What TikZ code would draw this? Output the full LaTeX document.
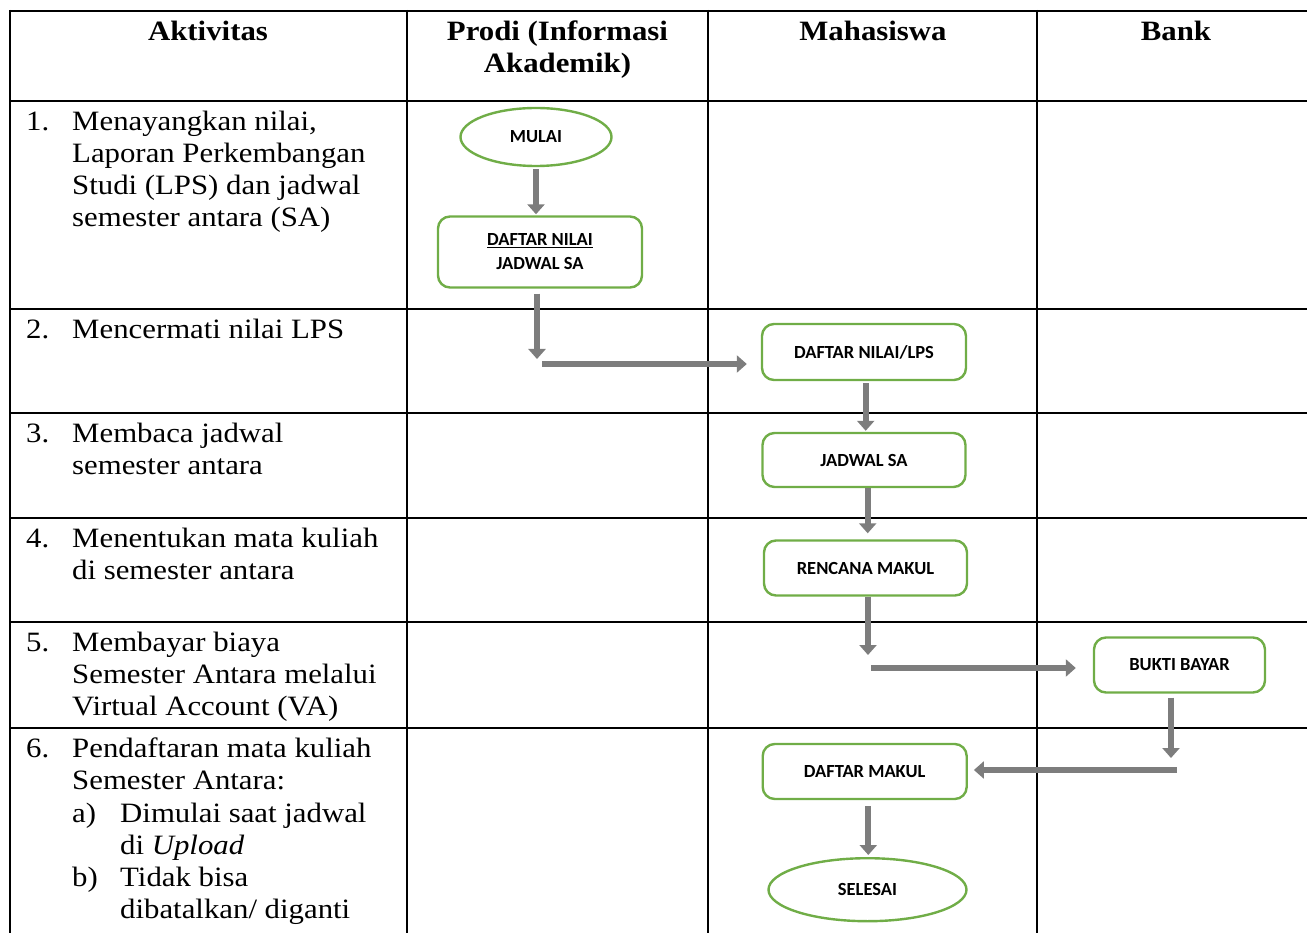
\documentclass[tikz,border=0pt]{standalone}
\usepackage{fontspec}
\setmainfont{Liberation Serif}[FakeStretch=1.1]
\newfontfamily\boxfont{Carlito}
\usepackage{tikz}
\usetikzlibrary{arrows.meta,shapes.geometric,positioning}
\definecolor{boxgreen}{RGB}{112,173,71}
\definecolor{arrowgray}{RGB}{125,125,125}

\begin{document}
\begin{tikzpicture}[x=1pt,y=-1pt,
    grid/.style={line width=2.7pt,black},
    head/.style={anchor=north,align=center,inner sep=0pt,font=\fontsize{28}{32}\selectfont\bfseries},
    num/.style={anchor=north west,inner sep=0pt,font=\fontsize{28}{32}\selectfont},
    activity/.style={anchor=north west,align=left,inner sep=0pt,font=\fontsize{28}{32}\selectfont},
    terminal/.style={shape=ellipse,draw=boxgreen,line width=2.4pt,inner sep=0pt,font=\boxfont\bfseries\fontsize{18.5}{24}\selectfont},
    process/.style={shape=rectangle,rounded corners=12pt,draw=boxgreen,line width=2.4pt,inner sep=0pt,align=center,font=\boxfont\bfseries\fontsize{18.5}{24}\selectfont},
    flow/.style={draw=arrowgray,line width=6pt,-{Triangle[width=17pt,length=10pt]}}]
    \useasboundingbox (0,0) rectangle (1307,933);

		\draw [grid] (9,11) -- (1307,11);
		\draw [grid] (9,101) -- (1307,101);
		\draw [grid] (9,309) -- (1307,309);
		\draw [grid] (9,413) -- (1307,413);
		\draw [grid] (9,518) -- (1307,518);
		\draw [grid] (9,622) -- (1307,622);
		\draw [grid] (9,728) -- (1307,728);
		\draw [grid] (10,10) -- (10,933);
		\draw [grid] (407,10) -- (407,933);
		\draw [grid] (708,10) -- (708,933);
		\draw [grid] (1037,10) -- (1037,933);

		\node (hAktivitas) at (208,18) [head] {\strut Aktivitas};
		\node (hProdi) at (557.5,18) [head] {\strut Prodi (Informasi\\Akademik)};
		\node (hMahasiswa) at (873,18) [head] {\strut Mahasiswa};
		\node (hBank) at (1176,18) [head] {\strut Bank};

		\node (n1) at (26,107.5) [num] {\strut 1.};
		\node (a1) at (72,107.5) [activity] {\strut Menayangkan nilai,\\Laporan Perkembangan\\Studi (LPS) dan jadwal\\semester antara (SA)};
		\node (n2) at (26,315.5) [num] {\strut 2.};
		\node (a2) at (72,315.5) [activity] {\strut Mencermati nilai LPS};
		\node (n3) at (26,419.5) [num] {\strut 3.};
		\node (a3) at (72,419.5) [activity] {\strut Membaca jadwal\\semester antara};
		\node (n4) at (26,524.5) [num] {\strut 4.};
		\node (a4) at (72,524.5) [activity] {\strut Menentukan mata kuliah\\di semester antara};
		\node (n5) at (26,628.5) [num] {\strut 5.};
		\node (a5) at (72,628.5) [activity] {\strut Membayar biaya\\Semester Antara melalui\\Virtual Account (VA)};
		\node (n6) at (26,734.5) [num] {\strut 6.};
		\node (a6) at (72,734.5) [activity] {\strut Pendaftaran mata kuliah\\Semester Antara:};
		\node (n6a) at (72,799.5) [num] {\strut a)};
		\node (a6a) at (120,799.5) [activity] {\strut Dimulai saat jadwal\\di \textit{Upload}};
		\node (n6b) at (72,863.5) [num] {\strut b)};
		\node (a6b) at (120,863.5) [activity] {\strut Tidak bisa\\dibatalkan/ diganti};

		\node (mulai) at (536,137) [terminal,minimum width=151pt,minimum height=58pt] {MULAI};
		\node (daftar) at (540,252) [process,minimum width=204pt,minimum height=71pt] {\underline{DAFTAR NILAI}\\JADWAL SA};
		\node (lps) at (864,352) [process,minimum width=204pt,minimum height=56pt] {DAFTAR NILAI/LPS};
		\node (jadwal) at (864,460) [process,minimum width=203pt,minimum height=54pt] {JADWAL SA};
		\node (rencana) at (865.5,568) [process,minimum width=203pt,minimum height=55pt] {RENCANA MAKUL};
		\node (bukti) at (1179.5,665) [process,minimum width=171pt,minimum height=55pt] {BUKTI BAYAR};
		\node (makul) at (864.7,771.5) [process,minimum width=204pt,minimum height=55pt] {DAFTAR MAKUL};
		\node (selesai) at (867.5,889.7) [terminal,minimum width=198pt,minimum height=63pt] {SELESAI};

		\coordinate (turn1) at (537,359);
		\coordinate (go1) at (542,364);
		\coordinate (turn2) at (868,655);
		\coordinate (go2) at (871,668);
		\coordinate (turn3) at (1171,758);
		\coordinate (go3) at (1177,770);

		\draw [flow,shorten <=2pt,shorten >=1pt] (mulai.south) -- (mulai.south |- daftar.north);
		\draw [flow,shorten <=5pt] (daftar.south -| turn1) -- (turn1);
		\draw [flow,shorten >=14pt] (go1) -- (go1 -| lps.west);
		\draw [flow,shorten <=2pt,shorten >=1pt] (lps.south -| 865.7,0) -- (jadwal.north -| 865.7,0);
		\draw [flow,shorten >=6pt] (jadwal.south -| 867.7,0) -- (rencana.north -| 867.7,0);
		\draw [flow] (rencana.south -| turn2) -- (turn2);
		\draw [flow,shorten >=17pt] (go2) -- (go2 -| bukti.west);
		\draw [flow,shorten <=4pt] (bukti.south -| turn3) -- (turn3);
		\draw [flow,shorten >=6pt] (go3) -- (go3 -| makul.east);
		\draw [flow,shorten <=6pt,shorten >=2pt] (makul.south -| 868.3,0) -- (selesai.north -| 868.3,0);
	\end{tikzpicture}
\end{document}
